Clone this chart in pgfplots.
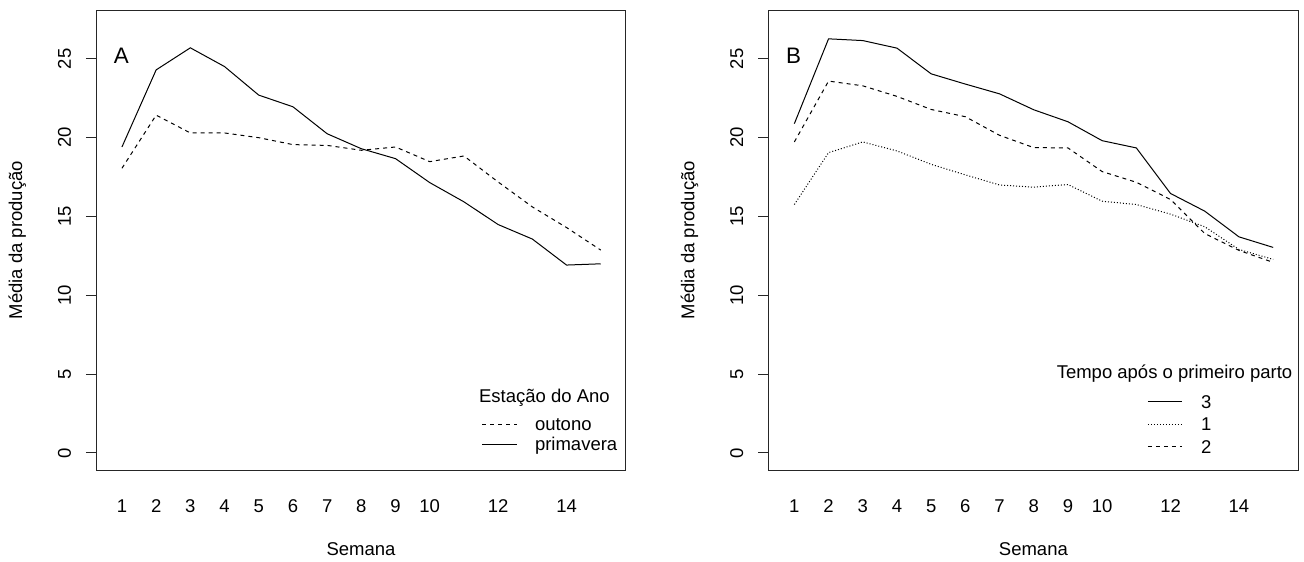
\documentclass[border=0pt]{standalone}
\usepackage{pgfplots}
\pgfplotsset{compat=1.18}
\usepackage{fontspec}
\setmainfont{Liberation Sans}
\newcommand{\fs}{\fontsize{18.5}{22}\selectfont}
\begin{document}
\fs
\begin{tikzpicture}
\pgfplotsset{
  panel/.style={
    width=529.4pt, height=459.7pt, scale only axis,
    xmin=0.25, xmax=15.73, ymin=-1.08, ymax=28.08,
    axis line style={black!85, line width=1pt},
    xtick={1,2,3,4,5,6,7,8,9,10,12,14},
    xticklabels={1,2,3,4,5,6,7,8,9,10,12,14},
    ytick={0,5,10,15,20,25},
    yticklabels={0,5,10,15,20,25},
    xtick style={draw=none},
    ytick pos=left,
    tick align=outside,
    major tick length=10.3pt,
    ytick style={black!85, line width=1pt},
    tick label style={font=\fs},
    xticklabel style={anchor=north, inner sep=0pt, yshift=-19.5pt},
    yticklabel style={rotate=90, anchor=south, inner sep=0pt},
    yticklabel shift=14.8pt,
    xlabel={Semana}, ylabel={Média da produção},
    every axis x label/.style={at={(rel axis cs:0.5,-0.1719)}, anchor=center, font=\fs},
    every axis y label/.style={at={(rel axis cs:-0.1403,0.5)}, rotate=90, anchor=base, font=\fs},
    legend style={draw=none, fill=none, inner sep=0pt, outer sep=0pt, font=\fs,
      anchor=north west,
      nodes={inner sep=0pt, anchor=base west, text height=13.5pt, text depth=4.5pt}},
  },
  ln/.style={black, line width=1pt},
  dsh/.style={black, line width=1pt, dash pattern=on 4pt off 4pt},
  dtt/.style={black, line width=1pt, dash pattern=on 1pt off 2pt},
}
% ---------------- Panel A ----------------
\begin{axis}[panel, at={(96.3pt,-470pt)}, anchor=south west,
  legend image code/.code={\draw[#1] (0pt,6.5pt) -- (35pt,6.5pt);},
  legend style={at={(rel axis cs:0.7278,0.1149)}, column sep=17.4pt, row sep=2pt}]
\addplot[dsh] coordinates {(1,18.06) (2,21.43) (3,20.30) (4,20.30) (5,20.00) (6,19.56) (7,19.51) (8,19.20) (9,19.41) (10,18.48) (11,18.84) (12,17.19) (13,15.61) (14,14.30) (15,12.87)};
\addlegendentry{outono}
\addplot[ln] coordinates {(1,19.41) (2,24.30) (3,25.70) (4,24.51) (5,22.70) (6,21.96) (7,20.25) (8,19.30) (9,18.67) (10,17.15) (11,15.93) (12,14.49) (13,13.57) (14,11.92) (15,12.00)};
\addlegendentry{primavera}
\node[anchor=base, inner sep=0pt, font=\fs] at (rel axis cs:0.8464,0.1473) {Estação do Ano};
\node[anchor=base west, inner sep=0pt, font=\fontsize{22.4}{26}\selectfont] at (rel axis cs:0.033,0.8847) {A};
\end{axis}
% ---------------- Panel B ----------------
\begin{axis}[panel, at={(768.7pt,-470pt)}, anchor=south west,
  legend image code/.code={\draw[#1] (0pt,6.5pt) -- (34.4pt,6.5pt);},
  legend style={at={(rel axis cs:0.7152,0.1636)}, column sep=18.3pt, row sep=4.5pt}]
\addplot[ln] coordinates {(1,20.89) (2,26.27) (3,26.16) (4,25.68) (5,24.05) (6,23.40) (7,22.78) (8,21.77) (9,21.01) (10,19.81) (11,19.35) (12,16.46) (13,15.34) (14,13.71) (15,13.04)};
\addlegendentry{3}
\addplot[dtt] coordinates {(1,15.76) (2,19.05) (3,19.73) (4,19.16) (5,18.31) (6,17.64) (7,17.00) (8,16.86) (9,17.03) (10,15.97) (11,15.76) (12,15.15) (13,14.35) (14,12.91) (15,12.28)};
\addlegendentry{1}
\addplot[dsh] coordinates {(1,19.73) (2,23.59) (3,23.29) (4,22.62) (5,21.79) (6,21.33) (7,20.15) (8,19.37) (9,19.35) (10,17.85) (11,17.17) (12,16.08) (13,13.92) (14,12.85) (15,12.09)};
\addlegendentry{2}
\node[anchor=base, inner sep=0pt, font=\fs] at (rel axis cs:0.7665,0.1995) {Tempo após o primeiro parto};
\node[anchor=base west, inner sep=0pt, font=\fontsize{22.4}{26}\selectfont] at (rel axis cs:0.0323,0.8847) {B};
\end{axis}
\path (0pt,0pt) rectangle (1304pt,-561pt);
\end{tikzpicture}
\end{document}
